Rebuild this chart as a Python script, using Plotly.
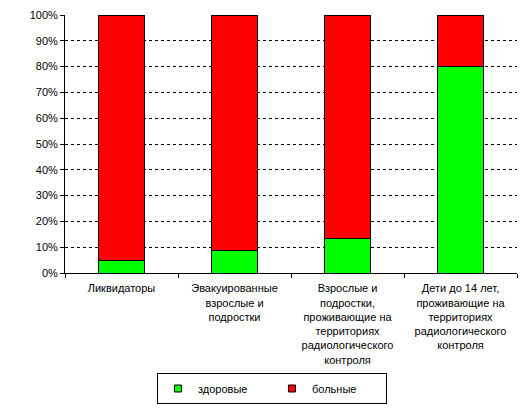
import plotly.graph_objects as go

categories = [
    "Ликвидаторы",
    "Эвакуированные<br>взрослые и<br>подростки",
    "Взрослые и<br>подростки,<br>проживающие на<br>территориях<br>радиологического<br>контроля",
    "Дети до 14 лет,<br>проживающие на<br>территориях<br>радиологического<br>контроля",
]
healthy = [4.7, 8.9, 13.4, 80.0]
sick = [95.3, 91.1, 86.6, 20.0]
series_names = ["здоровые", "больные"]
series_colors = ["#00FF00", "#FF0000"]
y_ticks = list(range(0, 101, 10))
y_tick_labels = [f"{v}%" for v in y_ticks]

font = dict(family="Liberation Sans, Arial, sans-serif", size=11, color="black")

fig = go.Figure()
for vals, name, col in zip([healthy, sick], series_names, series_colors):
    fig.add_trace(go.Bar(x=categories, y=vals, name=name, legendgroup=name, showlegend=False,
                         marker=dict(color=col, line=dict(color="black", width=1))))
# legend proxies with small square keys
for name, col in zip(series_names, series_colors):
    fig.add_trace(go.Scatter(x=[None], y=[None], mode="markers", name=name, legendgroup=name,
                             marker=dict(symbol="square", size=7, color=col,
                                         line=dict(color="black", width=1))))

# page body has an 8px margin, so the figure is 8px smaller than the window
fig.update_layout(
    barmode="stack",
    bargap=0.6,
    width=523, height=400,
    margin=dict(l=57, r=14, t=7, b=135, autoexpand=False),
    paper_bgcolor="white", plot_bgcolor="white",
    font=font,
    showlegend=True,
    legend=dict(orientation="h", x=0.2035, xanchor="left", y=-0.4477, yanchor="middle",
                bordercolor="black", borderwidth=1, font=font,
                entrywidth=69, itemwidth=30, traceorder="normal",
                tracegroupgap=0),
)
fig.update_xaxes(showline=True, linecolor="black", linewidth=1,
                 ticks="outside", tickson="boundaries", ticklen=4, tickcolor="black",
                 showgrid=False, tickfont=font, tickangle=0, ticklabelstandoff=5)
fig.update_yaxes(range=[0, 100], tickvals=y_ticks, ticktext=y_tick_labels,
                 showline=True, linecolor="black", linewidth=1,
                 ticks="outside", ticklen=4, tickcolor="black",
                 showgrid=True, gridcolor="black", gridwidth=1, griddash="3px,3px",
                 tickfont=font, zeroline=False)

fig.write_html("out.html")
